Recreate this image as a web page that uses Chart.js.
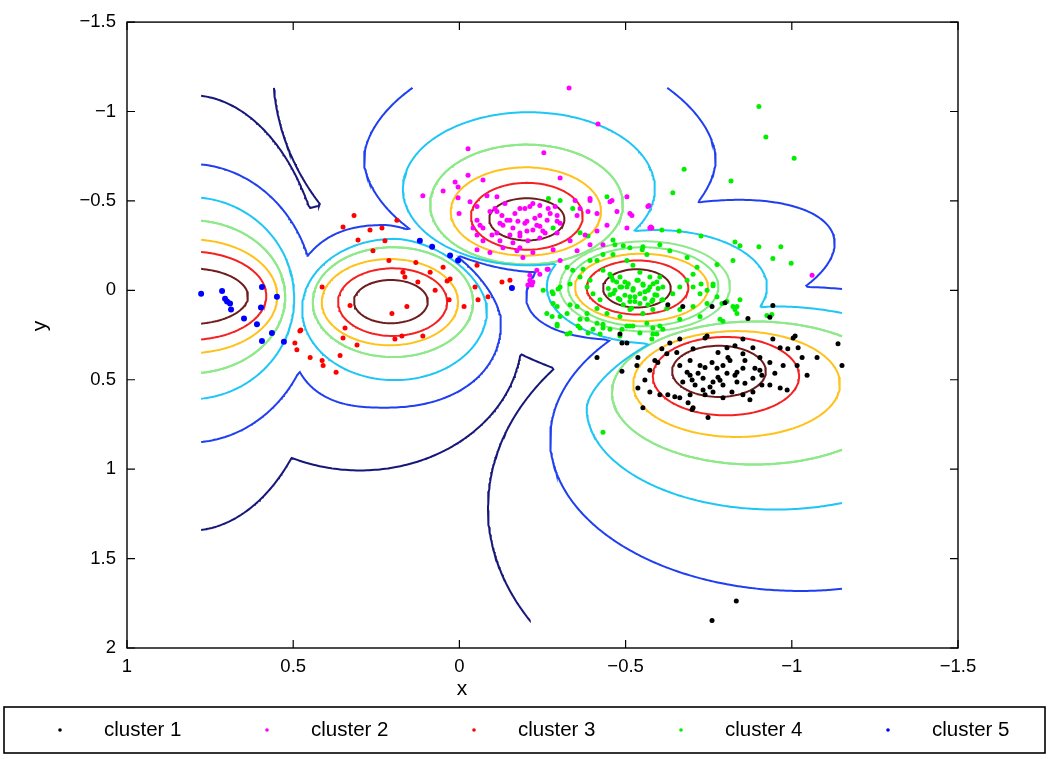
<!DOCTYPE html>
<html>
<head>
<meta charset="utf-8">
<script src="https://cdn.jsdelivr.net/npm/chart.js@4.4.1/dist/chart.umd.min.js"></script>
<style>
  html, body { margin: 0; padding: 0; background: #fff; }
  #wrap { width: 1050px; height: 759px; position: relative; }
</style>
</head>
<body>
<div id="wrap"><canvas id="clusterChart"></canvas></div>
<script>
'use strict';

// cluster labels and point colours
var clusterNames = ['cluster 1', 'cluster 2', 'cluster 3', 'cluster 4', 'cluster 5'];
var clusterColors = ['#000000', '#ff00ff', '#ff0000', '#00ee00', '#0000ff'];

// scatter points [x, y]
var cluster1 = [[-0.799,0.069],[-0.943,0.085],[-0.868,0.157],[-0.934,0.151],[-0.760,0.091],[-0.483,0.244],[-0.489,0.294],[-0.414,0.376],[-0.489,0.453],[-0.537,0.376],[-0.534,0.420],[-0.558,0.502],[-0.573,0.447],[-0.588,0.392],[-0.609,0.327],[-0.633,0.294],[-0.663,0.272],[-0.739,0.266],[-0.703,0.327],[-0.663,0.420],[-0.685,0.458],[-0.672,0.513],[-0.648,0.595],[-0.663,0.601],[-0.694,0.584],[-0.688,0.628],[-0.703,0.656],[-0.748,0.711],[-0.537,0.546],[-0.552,0.656],[-0.733,0.491],[-0.763,0.513],[-0.778,0.486],[-0.793,0.529],[-0.805,0.464],[-0.775,0.436],[-0.760,0.403],[-0.793,0.420],[-0.808,0.376],[-0.829,0.310],[-0.853,0.354],[-0.883,0.321],[-0.904,0.376],[-0.889,0.436],[-0.853,0.436],[-0.835,0.458],[-0.835,0.513],[-0.859,0.519],[-0.883,0.491],[-0.910,0.475],[-0.910,0.529],[-0.883,0.568],[-0.853,0.584],[-0.820,0.568],[-0.763,0.568],[-0.739,0.584],[-0.793,0.601],[-0.934,0.403],[-0.949,0.464],[-0.934,0.529],[-0.965,0.546],[-0.986,0.557],[-0.965,0.321],[-0.988,0.327],[-1.004,0.266],[-1.019,0.321],[-1.031,0.376],[-1.016,0.420],[-0.974,0.420],[-1.076,0.376],[-1.046,0.475],[-1.139,0.299],[-1.151,0.420],[-0.943,0.272],[-0.853,0.272],[-0.805,0.321],[-0.654,0.348],[-0.624,0.354],[-0.597,0.403],[-0.694,0.392],[-0.724,0.420],[-0.718,0.464],[-0.700,0.502],[-0.573,0.568],[-0.603,0.584],[-0.627,0.584],[-0.778,0.348],[-0.733,0.557],[-0.700,0.667],[-0.833,1.737],[-0.760,1.846],[-0.627,0.080],[-0.672,0.091],[-1.010,0.255],[-0.504,0.294],[-0.745,0.255],[-0.694,0.475],[-0.739,0.431],[-0.784,0.503],[-0.829,0.475],[-0.859,0.392],[-0.904,0.447],[-0.754,0.541],[-0.709,0.530],[-0.814,0.392],[-0.874,0.612]];

var cluster2 = [[-0.330,-1.132],[-0.417,-0.930],[-0.026,-0.792],[-0.254,-0.770],[0.110,-0.529],[0.049,-0.556],[0.013,-0.606],[0.004,-0.578],[-0.026,-0.644],[-0.071,-0.617],[-0.303,-0.628],[0.004,-0.518],[-0.032,-0.496],[-0.053,-0.469],[-0.083,-0.529],[-0.113,-0.524],[0.001,-0.430],[-0.053,-0.392],[-0.062,-0.364],[-0.092,-0.441],[-0.113,-0.441],[-0.128,-0.419],[-0.143,-0.392],[-0.131,-0.364],[-0.161,-0.348],[-0.152,-0.310],[-0.182,-0.304],[-0.203,-0.332],[-0.221,-0.337],[-0.182,-0.458],[-0.197,-0.458],[-0.221,-0.485],[-0.242,-0.474],[-0.267,-0.458],[-0.242,-0.419],[-0.264,-0.392],[-0.294,-0.386],[-0.294,-0.419],[-0.203,-0.386],[-0.176,-0.386],[-0.233,-0.364],[-0.251,-0.332],[-0.294,-0.321],[-0.242,-0.293],[-0.206,-0.277],[-0.161,-0.266],[-0.122,-0.277],[-0.098,-0.310],[-0.071,-0.348],[-0.348,-0.502],[-0.354,-0.419],[-0.387,-0.441],[-0.363,-0.458],[-0.393,-0.502],[-0.414,-0.430],[-0.459,-0.502],[-0.504,-0.524],[-0.519,-0.419],[-0.474,-0.441],[-0.053,-0.310],[-0.071,-0.277],[-0.053,-0.227],[-0.092,-0.211],[-0.131,-0.238],[-0.221,-0.211],[-0.282,-0.227],[-0.333,-0.277],[-0.378,-0.310],[-0.414,-0.332],[-0.444,-0.364],[-0.504,-0.348],[-0.573,-0.348],[-0.041,-0.348],[-0.393,-0.513],[-0.453,-0.496],[-0.513,-0.430],[-0.567,-0.469],[-0.579,-0.348],[-0.432,-0.255],[-0.393,-0.255],[-0.354,-0.222],[-0.303,-0.167],[-0.264,-0.118],[-0.242,-0.090],[-0.212,-0.057],[-0.218,-0.030],[-1.061,-0.085],[-0.570,-0.474],[-0.576,-0.354],[-0.173,-0.222],[-0.191,-0.183],[-0.212,-0.085],[-0.221,-0.046],[-0.206,-0.030],[-0.233,-0.112],[-0.267,-0.118],[-0.182,-0.238],[-0.107,-0.458],[-0.137,-0.485],[-0.167,-0.430],[-0.227,-0.403],[-0.273,-0.430],[-0.303,-0.375],[-0.122,-0.375],[-0.182,-0.320],[-0.258,-0.320],[-0.212,-0.469],[-0.152,-0.392],[-0.242,-0.359],[-0.288,-0.469],[-0.113,-0.320],[-0.197,-0.375]];

var cluster3 = [[0.317,-0.419],[0.188,-0.392],[0.269,-0.337],[0.233,-0.348],[0.305,-0.282],[0.224,-0.277],[0.260,-0.222],[0.212,-0.167],[0.131,-0.156],[0.170,-0.101],[0.164,-0.074],[0.088,-0.101],[0.037,-0.052],[0.049,-0.129],[0.125,-0.046],[0.073,0.000],[0.031,0.052],[-0.014,0.091],[-0.047,-0.019],[-0.056,0.052],[-0.086,0.036],[0.413,-0.019],[0.329,0.085],[0.203,0.129],[0.158,0.091],[0.350,0.266],[0.308,0.305],[0.194,0.272],[0.173,0.255],[0.110,0.255],[0.359,0.365],[0.480,0.228],[0.495,0.294],[0.489,0.332],[0.449,0.376],[0.413,0.392],[0.410,0.420],[0.371,0.458],[-0.053,-0.140],[0.350,-0.354],[0.477,0.222],[0.028,-0.063],[-0.128,-0.046],[-0.152,-0.057],[0.344,0.211]];

var cluster4 = [[-0.901,-1.028],[-0.922,-0.858],[-1.007,-0.738],[-0.676,-0.677],[-0.817,-0.611],[-0.642,-0.546],[-0.727,-0.304],[-0.829,-0.271],[-0.844,-0.249],[-0.901,-0.244],[-0.967,-0.244],[-0.943,-0.178],[-0.998,-0.151],[-0.661,-0.332],[-0.609,-0.337],[-0.703,-0.090],[-0.727,-0.035],[-0.763,-0.025],[-0.790,0.074],[-0.805,0.063],[-0.829,0.107],[-0.835,0.091],[-0.925,0.140],[-0.793,0.173],[-0.432,0.793],[-0.444,-0.524],[-0.341,-0.458],[-0.462,-0.282],[-0.468,-0.255],[-0.504,-0.167],[-0.522,-0.140],[-0.552,-0.244],[-0.564,-0.200],[-0.483,-0.074],[-0.462,-0.057],[-0.504,-0.019],[-0.534,-0.057],[-0.552,-0.035],[-0.573,-0.019],[-0.594,-0.046],[-0.612,-0.019],[-0.543,0.019],[-0.513,0.036],[-0.483,0.052],[-0.453,0.025],[-0.423,0.052],[-0.402,0.019],[-0.384,-0.019],[-0.393,-0.057],[-0.363,-0.074],[-0.333,-0.035],[-0.303,-0.019],[-0.282,0.019],[-0.252,0.000],[-0.324,-0.129],[-0.341,-0.112],[-0.372,-0.118],[-0.414,-0.167],[-0.432,-0.112],[-0.453,-0.090],[-0.582,0.052],[-0.612,0.052],[-0.642,0.019],[-0.663,-0.019],[-0.685,-0.057],[-0.703,-0.019],[-0.724,0.019],[-0.745,0.000],[-0.763,-0.035],[-0.775,0.036],[-0.745,0.074],[-0.703,0.091],[-0.663,0.107],[-0.624,0.102],[-0.582,0.107],[-0.552,0.129],[-0.513,0.107],[-0.483,0.146],[-0.444,0.129],[-0.414,0.102],[-0.384,0.129],[-0.354,0.091],[-0.324,0.129],[-0.303,0.146],[-0.363,0.162],[-0.432,0.190],[-0.513,0.200],[-0.564,0.184],[-0.603,0.200],[-0.663,0.162],[-0.724,0.146],[-0.784,0.162],[-0.823,0.091],[-0.844,0.052],[-0.835,0.129],[-0.282,0.074],[-0.263,0.129],[-0.294,0.200],[-0.333,0.239],[-0.423,0.244],[-0.543,0.239],[-0.582,0.244],[-0.715,-0.129],[-0.775,-0.145],[-0.823,-0.167],[-0.685,-0.184],[-0.633,-0.222],[-0.603,-0.255],[-0.513,-0.238],[-0.462,-0.200],[-0.432,-0.200],[-0.393,-0.167],[-0.483,-0.019],[-0.522,0.000],[-0.558,0.008],[-0.588,0.025],[-0.498,-0.046],[-0.573,-0.074],[-0.543,-0.101],[-0.468,0.000],[-0.603,-0.074],[-0.528,0.063],[-0.567,0.080],[-0.297,-0.008],[-0.294,0.091],[-0.279,0.146],[-0.333,0.080],[-0.357,0.200],[-0.387,0.239],[-0.489,0.217],[-0.522,0.200],[-0.582,0.211],[-0.579,0.272],[-0.594,0.244],[-0.612,0.217],[-0.504,0.200],[-0.483,0.255],[-0.453,0.217],[-0.432,0.211],[-0.414,0.184],[-0.384,0.162],[-0.940,0.135],[-0.268,-0.513],[-0.303,-0.502],[-0.363,-0.322],[-0.282,-0.348],[-0.387,-0.304],[-0.550,-0.227],[-0.493,-0.249],[-0.279,0.008],[-0.294,0.189],[-0.324,0.244],[-0.363,0.211],[-0.402,0.217],[-0.458,-0.074],[-0.473,-0.046],[-0.488,-0.019],[-0.508,-0.037],[-0.523,-0.010],[-0.538,-0.056],[-0.553,-0.028],[-0.568,-0.001],[-0.583,-0.037],[-0.598,-0.010],[-0.463,0.018],[-0.478,0.045],[-0.498,0.027],[-0.513,0.063],[-0.528,0.036],[-0.543,0.073],[-0.558,0.045],[-0.579,0.063],[-0.594,0.027],[-0.609,0.054],[-0.448,-0.010],[-0.493,0.081],[-0.518,0.100]];

var cluster5 = [[0.777,0.019],[0.714,0.003],[0.705,0.047],[0.699,0.063],[0.690,0.074],[0.687,0.107],[0.648,0.157],[0.609,0.190],[0.594,-0.019],[0.597,0.096],[0.549,0.036],[0.564,0.239],[0.594,0.283],[0.528,0.288],[0.082,-0.244],[0.028,-0.195],[0.004,-0.167],[0.119,-0.277],[-0.158,-0.013]];

// axis ranges and tick step
var xRange = [-1.5, 1];
var yRange = [-1.5, 2];
var tickStep = 0.5;

// contour levels, outermost (level 1) to innermost (level 8)
var contourColors = ['#17177a', '#1f3ff0', '#1ec6f5', '#8fe88a', '#7deb7d', '#ffc21a', '#f52020', '#6e1c1c'];

// per-cluster contour rings, outermost first
// (only cluster 4 shows the two green levels apart; elsewhere they coincide).
// short form: [cx, cy, rx, ry (, exponent, tilt deg)]
// long form:  [cx, cy, rx+, rx-, ry-, ry+, exponent per quadrant (+x-y, -x-y, +x+y, -x+y), tilt deg]
var rings1 = [[-1.025,1.215,0.939,1.262],[-1.025,0.831,0.752,0.850],[-0.949,0.658,0.566,0.566,0.568,0.568,1.6,2,2,2,0],[-0.889,0.574,0.430,0.400],[-0.889,0.574,0.430,0.400],[-0.834,0.524,0.311,0.296],[-0.802,0.480,0.220,0.219],[-0.781,0.453,0.141,0.143]];
var rings2 = [[-0.318,-1.226,0.878,1.371],[-0.242,-0.732,0.529,0.631,1.8,0],[-0.209,-0.568,0.379,0.428],[-0.202,-0.480,0.290,0.335],[-0.202,-0.480,0.290,0.335],[-0.200,-0.441,0.226,0.247],[-0.203,-0.414,0.168,0.187],[-0.203,-0.397,0.113,0.118]];
var rings3 = [[0.299,0.255,0.487,0.752],[0.224,0.173,0.286,0.349,0.538,0.483,2.4,1.6,2.6,2.2,0],[0.195,0.107,0.278,0.278,0.395,0.395,2,1.7,2,2,0],[0.200,0.066,0.241,0.307],[0.200,0.066,0.241,0.307],[0.209,0.066,0.205,0.241],[0.201,0.066,0.164,0.189],[0.206,0.063,0.111,0.121]];
var rings4 = [[-0.784,-0.183,0.842,0.768],[-0.665,-0.114,0.510,0.330,2,33],[-0.594,-0.019,0.331,0.318],[-0.558,-0.022,0.256,0.252],[-0.553,-0.020,0.226,0.221],[-0.548,-0.016,0.200,0.189],[-0.536,-0.016,0.153,0.151],[-0.534,-0.011,0.102,0.107]];
var rings5 = [[0.810,0.126,0.409,1.218],[0.810,0.072,0.376,0.779],[0.810,0.044,0.313,0.565],[0.810,0.036,0.286,0.428],[0.810,0.036,0.286,0.428],[0.810,0.033,0.262,0.318],[0.810,0.030,0.229,0.247],[0.810,0.033,0.174,0.156]];

var clusters = [cluster1, cluster2, cluster3, cluster4, cluster5];

// ---- contour field ----
function expandRing(r) {
  if (r.length >= 11) return r;
  var p = r.length > 4 ? r[4] : 2, t = r.length > 5 ? r[5] : 0;
  return [r[0], r[1], r[2], r[2], r[3], r[3], p, p, p, p, t];
}
var ringSets = [rings1, rings2, rings3, rings4, rings5].map(function (rs) { return rs.map(expandRing); });

function ringDist(r, x, y) {
  var dx = x - r[0], dy = y - r[1], t = r[10] * Math.PI / 180;
  var a = dx * Math.cos(t) + dy * Math.sin(t);
  var b = -dx * Math.sin(t) + dy * Math.cos(t);
  var u = Math.abs(a) / (a >= 0 ? r[2] : r[3]);
  var v = Math.abs(b) / (b < 0 ? r[4] : r[5]);
  var p = b < 0 ? (a >= 0 ? r[6] : r[7]) : (a >= 0 ? r[8] : r[9]);
  return Math.pow(Math.pow(u, p) + Math.pow(v, p), 1 / p);
}

// contour grid spans the data
var allPoints = [].concat(cluster1, cluster2, cluster3, cluster4, cluster5);
var gx0 = Math.min.apply(null, allPoints.map(function (p) { return p[0]; }));
var gx1 = Math.max.apply(null, allPoints.map(function (p) { return p[0]; }));
var gy0 = Math.min.apply(null, allPoints.map(function (p) { return p[1]; }));
var gy1 = Math.max.apply(null, allPoints.map(function (p) { return p[1]; }));
var NX = 240, NY = 280;
var gxs = [], gys = [];
for (var i = 0; i <= NX; i++) gxs.push(gx0 + (gx1 - gx0) * i / NX);
for (var j = 0; j <= NY; j++) gys.push(gy0 + (gy1 - gy0) * j / NY);

// level n region = union of every cluster's ring n
function levelField(n) {
  return gys.map(function (y) {
    return gxs.map(function (x) {
      var best = -Infinity;
      ringSets.forEach(function (rs) { best = Math.max(best, 1 - ringDist(rs[n], x, y)); });
      return best;
    });
  });
}

// marching squares at zero, joined into polylines
function traceZero(field) {
  var L = 0, nodes = {};
  function node(key, p) { if (!nodes[key]) nodes[key] = { p: p, links: [] }; return key; }
  function cross(xa, ya, va, xb, yb, vb) {
    var t = (L - va) / (vb - va);
    return { x: xa + t * (xb - xa), y: ya + t * (yb - ya) };
  }
  function link(a, b) { nodes[a].links.push(b); nodes[b].links.push(a); }

  for (var j = 0; j < NY; j++) {
    for (var i = 0; i < NX; i++) {
      var v0 = field[j][i], v1 = field[j][i + 1], v2 = field[j + 1][i + 1], v3 = field[j + 1][i];
      var x0 = gxs[i], x1 = gxs[i + 1], y0 = gys[j], y1 = gys[j + 1];
      var b0 = v0 >= L, b1 = v1 >= L, b2 = v2 >= L, b3 = v3 >= L;
      var e = [null, null, null, null];
      if (b0 !== b1) e[0] = node('h' + i + '_' + j, cross(x0, y0, v0, x1, y0, v1));
      if (b1 !== b2) e[1] = node('v' + (i + 1) + '_' + j, cross(x1, y0, v1, x1, y1, v2));
      if (b3 !== b2) e[2] = node('h' + i + '_' + (j + 1), cross(x0, y1, v3, x1, y1, v2));
      if (b0 !== b3) e[3] = node('v' + i + '_' + j, cross(x0, y0, v0, x0, y1, v3));
      var ks = e.filter(function (k) { return k !== null; });
      if (ks.length === 2) {
        link(ks[0], ks[1]);
      } else if (ks.length === 4) {
        var centerUp = (v0 + v1 + v2 + v3) / 4 >= L;
        if (centerUp === b0) { link(e[0], e[1]); link(e[2], e[3]); }
        else { link(e[3], e[0]); link(e[1], e[2]); }
      }
    }
  }

  var used = {}, lines = [];
  function walk(start) {
    var line = [], cur = start, last = null;
    while (cur !== null) {
      used[cur] = true; line.push(nodes[cur].p); last = cur;
      var next = null, ls = nodes[cur].links;
      for (var k = 0; k < ls.length; k++) if (!used[ls[k]]) { next = ls[k]; break; }
      cur = next;
    }
    if (line.length > 2 && nodes[start].links.indexOf(last) >= 0) line.push(nodes[start].p);
    lines.push(line);
  }
  var keys = Object.keys(nodes);
  keys.forEach(function (k) { if (!used[k] && nodes[k].links.length === 1) walk(k); });
  keys.forEach(function (k) { if (!used[k]) walk(k); });
  return lines;
}

// ---- datasets ----
var pointSets = clusters.map(function (pts, k) {
  return {
    label: clusterNames[k],
    data: pts.map(function (p) { return { x: p[0], y: p[1] }; }),
    backgroundColor: clusterColors[k],
    borderWidth: 0,
    pointRadius: k === 4 ? 3 : 2.5,
    pointStyle: 'circle'
  };
});

var contourSets = contourColors.map(function (col, n) {
  var pts = [];
  traceZero(levelField(n)).forEach(function (line) {
    line.forEach(function (p) { pts.push(p); });
    pts.push({ x: NaN, y: NaN });
  });
  return {
    label: 'level ' + (n + 1),
    data: pts,
    showLine: true,
    borderColor: col,
    borderWidth: 2,
    pointRadius: 0,
    fill: false,
    spanGaps: false
  };
});

function fmtTick(v) {
  var r = Math.round(v * 10) / 10;
  return r < 0 ? '\u2212' + String(-r) : String(r);
}

// frame, inward ticks, axis titles, legend box
var framePlugin = {
  id: 'frame',
  afterDraw: function (chart) {
    var ctx = chart.ctx, a = chart.chartArea;
    var xs = chart.scales.x, ys = chart.scales.y;
    ctx.save();
    ctx.strokeStyle = '#000';
    ctx.lineWidth = 1.4;
    ctx.strokeRect(a.left, a.top, a.right - a.left, a.bottom - a.top);
    ctx.lineWidth = 1.2;
    ctx.beginPath();
    xs.ticks.forEach(function (t) {
      var px = xs.getPixelForValue(t.value);
      ctx.moveTo(px, a.bottom); ctx.lineTo(px, a.bottom - 8);
      ctx.moveTo(px, a.top); ctx.lineTo(px, a.top + 8);
    });
    ys.ticks.forEach(function (t) {
      var py = ys.getPixelForValue(t.value);
      ctx.moveTo(a.left, py); ctx.lineTo(a.left + 8, py);
      ctx.moveTo(a.right, py); ctx.lineTo(a.right - 8, py);
    });
    ctx.stroke();

    ctx.fillStyle = '#000';
    ctx.font = '21px "Liberation Sans", Arial, sans-serif';
    ctx.textAlign = 'center';
    ctx.textBaseline = 'middle';
    ctx.fillText('x', 462, 689);
    ctx.save();
    ctx.translate(40, 326);
    ctx.rotate(-Math.PI / 2);
    ctx.fillText('y', 0, 0);
    ctx.restore();

    // legend
    ctx.lineWidth = 1.6;
    ctx.strokeRect(4, 707, 1041, 46);
    ctx.font = '20.5px "Liberation Sans", Arial, sans-serif';
    ctx.textAlign = 'left';
    for (var k = 0; k < 5; k++) {
      var lx = 60 + k * 207;
      ctx.fillStyle = chart.data.datasets[k].backgroundColor;
      ctx.beginPath();
      ctx.arc(lx, 730, 1.8, 0, Math.PI * 2);
      ctx.fill();
      ctx.fillStyle = '#000';
      ctx.fillText(chart.data.datasets[k].label, lx + 44, 730);
    }
    ctx.restore();
  }
};

Chart.defaults.font.family = '"Liberation Sans", Arial, sans-serif';
Chart.defaults.color = '#000';

new Chart(document.getElementById('clusterChart'), {
  type: 'scatter',
  data: { datasets: pointSets.concat(contourSets) },
  options: {
    responsive: true,
    maintainAspectRatio: false,
    animation: false,
    events: [],
    layout: { padding: { left: 0, top: 10, right: 92, bottom: 66 } },
    plugins: { legend: { display: false }, tooltip: { enabled: false } },
    scales: {
      x: {
        type: 'linear', reverse: true, min: xRange[0], max: xRange[1],
        afterFit: function (s) { s.height = 45; },
        grid: { display: false, drawTicks: false },
        border: { display: false },
        ticks: { stepSize: tickStep, padding: 8, maxRotation: 0, autoSkip: false, font: { size: 18.5 }, callback: fmtTick }
      },
      y: {
        type: 'linear', reverse: true, min: yRange[0], max: yRange[1],
        afterFit: function (s) { s.width = 127; },
        grid: { display: false, drawTicks: false },
        border: { display: false },
        ticks: { stepSize: tickStep, padding: 11, autoSkip: false, font: { size: 18.5 }, callback: fmtTick }
      }
    }
  },
  plugins: [framePlugin]
});
</script>
</body>
</html>
